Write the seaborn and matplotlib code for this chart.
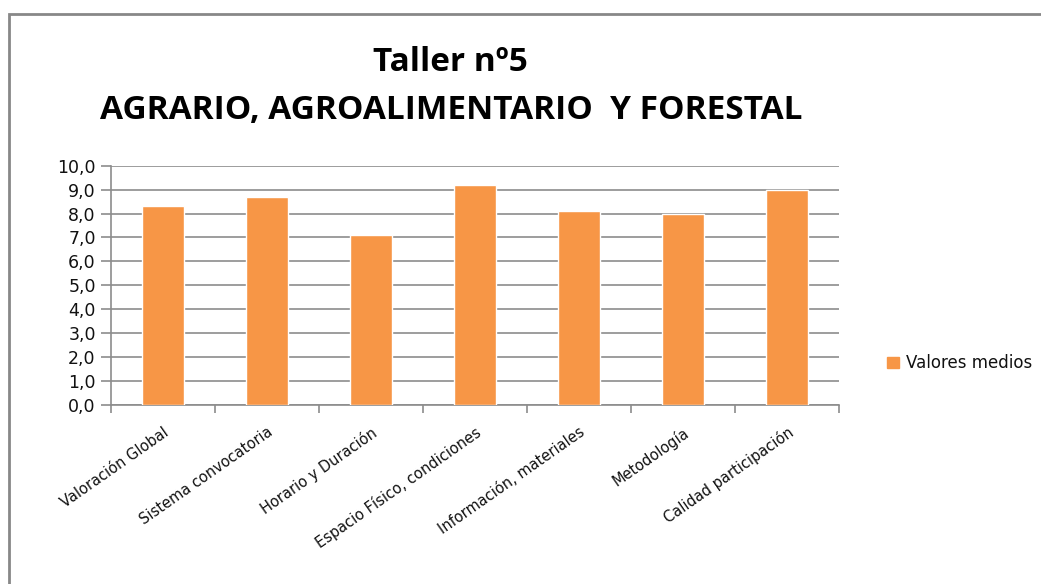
import pandas as pd
import seaborn as sns
import matplotlib.pyplot as plt
from matplotlib.patches import Rectangle, Patch

categorias = ["Valoración Global", "Sistema convocatoria", "Horario y Duración",
              "Espacio Físico, condiciones", "Información, materiales",
              "Metodología", "Calidad participación"]
valores = [8.3, 8.7, 7.1, 9.2, 8.1, 8.0, 9.0]
yticks = [0, 1, 2, 3, 4, 5, 6, 7, 8, 9, 10]
serie = "Valores medios"

df = pd.DataFrame({"categoria": categorias, "valor": valores})

sns.set_style("white")
plt.rcParams["font.family"] = ["DejaVu Sans"]

fig = plt.figure(figsize=(10.41, 5.84), dpi=100)
ax = fig.add_axes([0.1066, 0.3065, 0.6994, 0.4098])

sns.barplot(data=df, x="categoria", y="valor", color="#F79646", width=0.41,
            saturation=1, ax=ax, zorder=3)

ax.set_ylim(0, 10)
ax.set_xlim(-0.5, len(categorias) - 0.5)
ax.set_yticks(yticks)
ax.set_yticklabels([f"{v:.1f}".replace(".", ",") for v in yticks], fontsize=12.5, color="#111111")
ax.yaxis.grid(True, color="#8c8c8c", linewidth=1.2, zorder=0)
ax.set_xlabel("")
ax.set_ylabel("")

# ticks between categories on the x axis
ax.set_xticks([i - 0.5 for i in range(len(categorias) + 1)], minor=False)
ax.set_xticklabels([])
ax.set_xticks(range(len(categorias)), minor=True)
ax.set_xticklabels(categorias, minor=True, rotation=35, ha="right",
                   rotation_mode="anchor", fontsize=10.5, color="#111111")
ax.tick_params(axis="x", which="minor", length=0, pad=14)
ax.tick_params(axis="x", which="major", length=6, width=1.2, color="#8c8c8c", direction="out")
ax.tick_params(axis="y", length=7, width=1.2, color="#8c8c8c", direction="out", pad=4)
ax.tick_params(bottom=True, left=True)

for s in ["top", "right"]:
    ax.spines[s].set_visible(False)
for s in ["left", "bottom"]:
    ax.spines[s].set_color("#8c8c8c")
    ax.spines[s].set_linewidth(1.2)

fig.text(0.433, 0.893, "Taller nº5", ha="center", va="center", color="black",
         fontsize=24, fontweight="bold", family="Open Sans")
fig.text(0.433, 0.81, "AGRARIO, AGROALIMENTARIO  Y FORESTAL", ha="center", va="center",
         color="black", fontsize=24, fontweight="bold", family="Open Sans")

fig.legend(handles=[Patch(color="#F79646", label=serie)], loc="center left",
           bbox_to_anchor=(0.838, 0.378), frameon=False, fontsize=12,
           labelcolor="#111111", handlelength=0.7, handleheight=0.7, handletextpad=0.4)

# chart border (left and top visible)
fig.patches.append(Rectangle((9 / 1041, -0.1), 1.2, 1 - 14 / 584 + 0.1,
                             transform=fig.transFigure, fill=False,
                             edgecolor="#888888", linewidth=2))

fig.savefig("out.png", dpi=100)
